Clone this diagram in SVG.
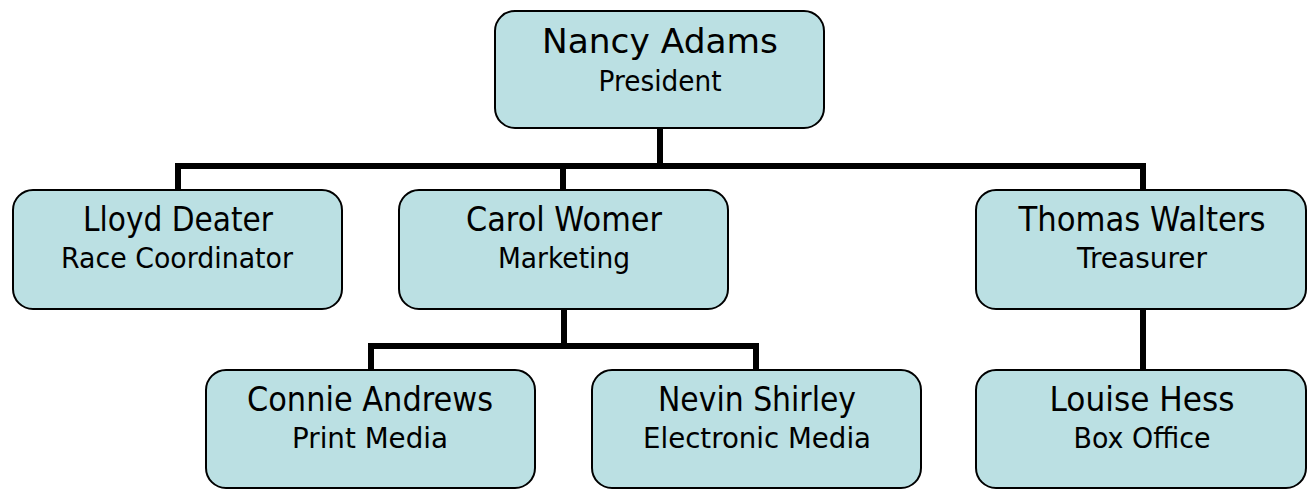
<svg xmlns="http://www.w3.org/2000/svg" width="1309" height="489" viewBox="0 0 1309 489">
<style>
.box{fill:#BBE0E3;stroke:#000;stroke-width:2}
.conn{fill:none;stroke:#000;stroke-width:6;stroke-linejoin:miter;stroke-linecap:butt}
.nm{font-family:"DejaVu Sans","Liberation Sans",sans-serif;font-size:33px;fill:#000;text-anchor:middle}
.sb{font-family:"DejaVu Sans","Liberation Sans",sans-serif;font-size:29px;fill:#000;text-anchor:middle}
</style>
<rect x="0" y="0" width="1309" height="489" fill="#fff"/>
<g id="connectors">
<path class="conn" d="M660,129 V166"/>
<path class="conn" d="M178,189 V166 H1143 V189"/>
<path class="conn" d="M563,166 V189"/>
<path class="conn" d="M564,310 V346"/>
<path class="conn" d="M371,369 V346 H756 V369"/>
<path class="conn" d="M1143,310 V369"/>
</g>
<g id="nancy">
<rect class="box" x="495" y="11" width="329" height="117" rx="20"/>
<text class="nm" x="660" y="53" textLength="236" lengthAdjust="spacingAndGlyphs">Nancy Adams</text>
<text class="sb" x="660" y="91" textLength="123" lengthAdjust="spacingAndGlyphs">President</text>
</g>
<g id="lloyd">
<rect class="box" x="13" y="190" width="329" height="119" rx="20"/>
<text class="nm" x="178" y="231" textLength="190" lengthAdjust="spacingAndGlyphs">Lloyd Deater</text>
<text class="sb" x="177" y="268" textLength="232" lengthAdjust="spacingAndGlyphs">Race Coordinator</text>
</g>
<g id="carol">
<rect class="box" x="399" y="190" width="329" height="119" rx="20"/>
<text class="nm" x="564" y="231" textLength="196" lengthAdjust="spacingAndGlyphs">Carol Womer</text>
<text class="sb" x="564" y="268" textLength="132" lengthAdjust="spacingAndGlyphs">Marketing</text>
</g>
<g id="thomas">
<rect class="box" x="976" y="190" width="330" height="119" rx="20"/>
<text class="nm" x="1142" y="231" textLength="247" lengthAdjust="spacingAndGlyphs">Thomas Walters</text>
<text class="sb" x="1142" y="268" textLength="130" lengthAdjust="spacingAndGlyphs">Treasurer</text>
</g>
<g id="connie">
<rect class="box" x="206" y="370" width="329" height="118" rx="20"/>
<text class="nm" x="370" y="411" textLength="246" lengthAdjust="spacingAndGlyphs">Connie Andrews</text>
<text class="sb" x="370" y="448" textLength="156" lengthAdjust="spacingAndGlyphs">Print Media</text>
</g>
<g id="nevin">
<rect class="box" x="592" y="370" width="329" height="118" rx="20"/>
<text class="nm" x="757" y="411" textLength="198" lengthAdjust="spacingAndGlyphs">Nevin Shirley</text>
<text class="sb" x="757" y="448" textLength="228" lengthAdjust="spacingAndGlyphs">Electronic Media</text>
</g>
<g id="louise">
<rect class="box" x="976" y="370" width="330" height="118" rx="20"/>
<text class="nm" x="1142" y="411" textLength="185" lengthAdjust="spacingAndGlyphs">Louise Hess</text>
<text class="sb" x="1142" y="448" textLength="137" lengthAdjust="spacingAndGlyphs">Box Office</text>
</g>
</svg>
